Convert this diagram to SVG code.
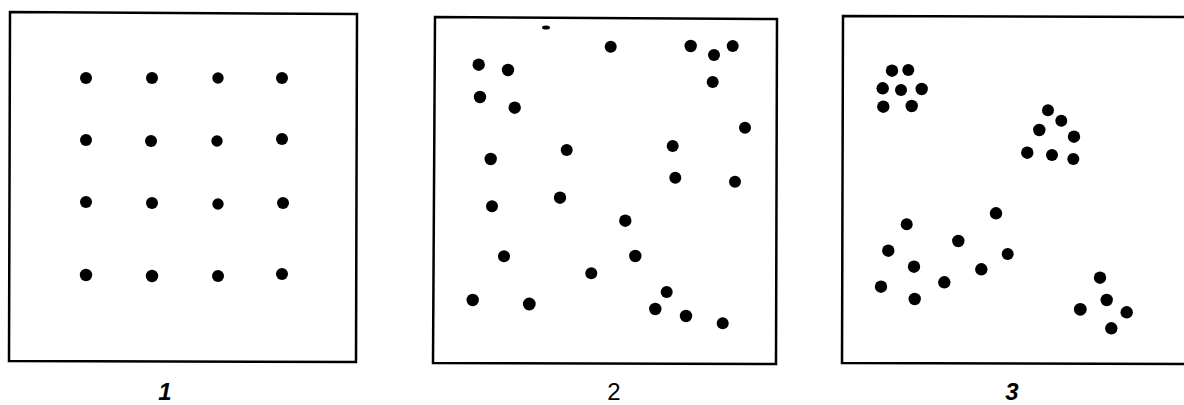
<svg xmlns="http://www.w3.org/2000/svg" width="1184" height="405" viewBox="0 0 1184 405">
<style>
.frame{fill:none;stroke:#000;stroke-width:2.5}
.d{fill:#000}
.lbl{font-family:"Liberation Sans",Arial,sans-serif;font-size:24px;fill:#000;text-anchor:middle}
</style>
<rect width="1184" height="405" fill="#fff"/>
<g id="panel1">
<polygon class="frame" points="10,12 357,14 356,362 9,361"/>
<g class="d">
<circle cx="86" cy="78" r="6"/><circle cx="152" cy="78" r="6"/><circle cx="218" cy="78" r="5.7"/><circle cx="282" cy="78" r="6"/>
<circle cx="86" cy="140" r="6"/><circle cx="151" cy="141" r="6"/><circle cx="217" cy="141" r="5.7"/><circle cx="282" cy="139" r="6"/>
<circle cx="86" cy="202" r="6"/><circle cx="152" cy="203" r="6"/><circle cx="218" cy="204" r="5.7"/><circle cx="283" cy="203" r="6"/>
<circle cx="86" cy="275" r="6.2"/><circle cx="152" cy="276" r="6.2"/><circle cx="218" cy="276" r="6"/><circle cx="282" cy="274" r="6"/>
</g>
<text class="lbl" x="165" y="400" font-style="italic" font-weight="bold">1</text>
</g>
<g id="panel2">
<polygon class="frame" points="435,17 777,19 776,364 433,363"/>
<g class="d">
<ellipse cx="546" cy="27.5" rx="4" ry="2"/>
<circle cx="610.7" cy="46.7" r="6"/><circle cx="690.7" cy="46" r="6.2"/><circle cx="714" cy="55" r="6"/><circle cx="732.7" cy="46" r="6"/>
<circle cx="478.7" cy="64.7" r="6.2"/><circle cx="508" cy="70" r="6.2"/><circle cx="712.7" cy="82" r="6"/><circle cx="480" cy="97" r="6.2"/>
<circle cx="514.7" cy="107.7" r="6.2"/><circle cx="745" cy="127.7" r="6"/><circle cx="672.7" cy="146" r="6"/><circle cx="566.7" cy="150" r="6"/>
<circle cx="490.7" cy="159" r="6.2"/><circle cx="675.3" cy="177.7" r="6"/><circle cx="735" cy="181.7" r="6"/><circle cx="560" cy="197.7" r="6.2"/>
<circle cx="492" cy="206.3" r="6"/><circle cx="625.3" cy="220.7" r="6.2"/><circle cx="504" cy="256.3" r="6"/><circle cx="635.3" cy="256" r="6.2"/>
<circle cx="591.3" cy="273.3" r="6"/><circle cx="666.7" cy="292" r="6"/><circle cx="472.7" cy="300" r="6.2"/><circle cx="529.3" cy="304" r="6.4"/>
<circle cx="655.3" cy="309" r="6.2"/><circle cx="686" cy="316" r="6.2"/><circle cx="722.7" cy="323.3" r="6"/>
</g>
<text class="lbl" x="614" y="400">2</text>
</g>
<g id="panel3">
<polyline class="frame" points="1190,17 843,16 842,363 1190,364"/>
<g class="d">
<circle cx="892" cy="70.7" r="6.2"/><circle cx="908.3" cy="70" r="6"/><circle cx="882.7" cy="88.3" r="6.2"/><circle cx="901" cy="90" r="6"/>
<circle cx="921.7" cy="89" r="6.2"/><circle cx="883.3" cy="106.7" r="6.2"/><circle cx="911.7" cy="106" r="6.2"/>
<circle cx="1048" cy="110.3" r="6"/><circle cx="1061.3" cy="120.7" r="6"/><circle cx="1039.3" cy="130" r="6.2"/><circle cx="1074" cy="136.7" r="6.2"/>
<circle cx="1027.3" cy="152.7" r="6.2"/><circle cx="1052" cy="155" r="6"/><circle cx="1073.3" cy="159" r="6"/>
<circle cx="996" cy="213.3" r="6.2"/><circle cx="906.7" cy="224.3" r="6"/><circle cx="958.3" cy="241" r="6.2"/><circle cx="888.3" cy="250.7" r="6.2"/>
<circle cx="1007.7" cy="254" r="6"/><circle cx="914" cy="266.7" r="6.2"/><circle cx="981.3" cy="269.3" r="6.2"/><circle cx="944.3" cy="282.3" r="6.2"/>
<circle cx="881" cy="286.7" r="6.2"/><circle cx="914.7" cy="299" r="6.2"/>
<circle cx="1100" cy="277.7" r="6.2"/><circle cx="1106.7" cy="300" r="6.2"/><circle cx="1080.3" cy="309.3" r="6.4"/><circle cx="1126.7" cy="312.3" r="6.2"/><circle cx="1111.3" cy="328.3" r="6.2"/>
</g>
<text class="lbl" x="1012" y="400" font-style="italic" font-weight="bold">3</text>
</g>
</svg>
